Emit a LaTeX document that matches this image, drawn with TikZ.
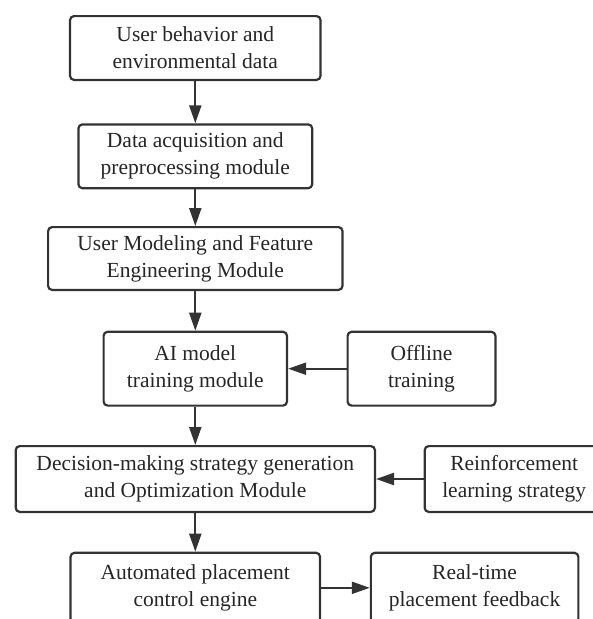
\documentclass[tikz,border=0pt]{standalone}
\usepackage{fontspec}
\setmainfont{Liberation Serif}
\usetikzlibrary{arrows.meta, positioning}

\begin{document}
\begin{tikzpicture}[
  x=1pt, y=1pt,
  node distance = 39pt and 48pt,
  box/.style = {
    draw=black!80, line width=2.2pt, rounded corners=4pt, fill=white,
    align=center, inner sep=2pt, text=black!85,
    font=\fontsize{21.5}{27}\selectfont
  },
  arr/.style = {-{Triangle[length=18pt, width=12pt]}, line width=2.2pt, draw=black!80},
]
\clip (0,0) rectangle (593,-619);

% main column
\node[box, minimum width=250.5pt, minimum height=63.8pt] (user-data) at (195.3,-48)
  {User behavior and\\environmental data};
\node[box, minimum width=233.8pt, minimum height=63.8pt] (acq) [below=42.3pt of user-data]
  {Data acquisition and\\preprocessing module};
\node[box, minimum width=294.4pt, minimum height=62.8pt] (modeling) [below=36.7pt of acq]
  {User Modeling and Feature\\Engineering Module};
\node[box, minimum width=183.4pt, minimum height=73.8pt] (ai-train) [below=39.7pt of modeling]
  {AI model\\training module};
\node[box, minimum width=359.2pt, minimum height=65.8pt] (decision) [below=38.3pt of ai-train]
  {Decision-making strategy generation\\and Optimization Module};
\node[box, minimum width=249.5pt, minimum height=70pt] (engine) [below=38.7pt of decision]
  {Automated placement\\control engine};

% side inputs / outputs
\node[box, minimum width=147.8pt, minimum height=73.8pt] (offline) [right=58.4pt of ai-train]
  {Offline\\training};
\node[box, minimum width=179pt, minimum height=65.8pt] (rl) [right=47.6pt of decision]
  {Reinforcement\\learning strategy};
\node[box, minimum width=207.5pt, minimum height=70pt] (feedback) [right=48.6pt of engine]
  {Real-time\\placement feedback};

% arrows
\draw[arr] (user-data) -- (acq);
\draw[arr] (acq) -- (modeling);
\draw[arr] (modeling) -- (ai-train);
\draw[arr] (ai-train) -- (decision);
\draw[arr] (decision) -- (engine);
\draw[arr] (offline) -- (ai-train);
\draw[arr] (rl) -- (decision);
\draw[arr] (engine) -- (feedback);

\end{tikzpicture}
\end{document}
